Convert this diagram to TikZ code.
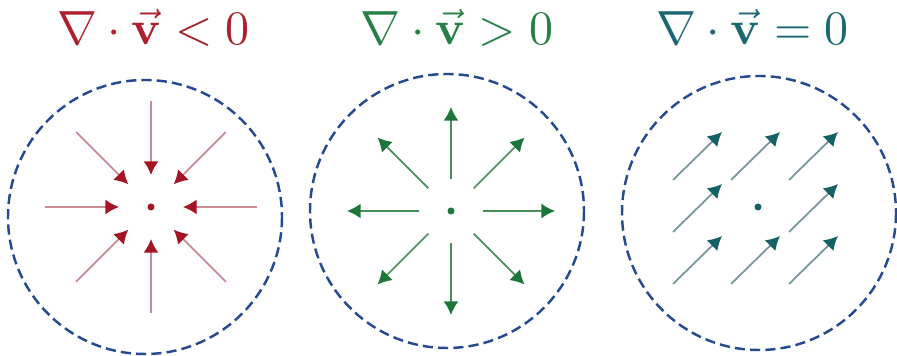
\documentclass[tikz,border=0pt]{standalone}
\usepackage{graphicx}
\usetikzlibrary{arrows.meta,calc}
\definecolor{tred}{RGB}{172,32,48}
\definecolor{hred}{RGB}{165,20,35}
\definecolor{sred}{RGB}{200,140,150}
\definecolor{tgreen}{RGB}{36,128,68}
\definecolor{hgreen}{RGB}{28,118,58}
\definecolor{sgreen}{RGB}{72,142,92}
\definecolor{tteal}{RGB}{28,104,112}
\definecolor{hteal}{RGB}{20,98,104}
\definecolor{steal}{RGB}{118,150,155}
\definecolor{navy}{RGB}{38,74,145}
\newcommand{\bigtitle}[1]{\scalebox{1.366}{#1}}
\begin{document}
\begin{tikzpicture}[x=0.1mm,y=-0.1mm,
  title/.style={anchor=base,inner sep=0pt},
  rim/.style={draw=navy,dash pattern=on 2.9pt off 1.45pt,line width=0.7pt},
  dot/.style={circle,fill=#1,inner sep=0pt,minimum size=0.7mm},
  fieldvec/.style 2 args={draw=#1,line width=0.5pt,-{Latex[length=3.9pt,width=4.3pt,color=#2]}}
  ]
\useasboundingbox (0,0) rectangle (897,356);
% titles
\node[title,text=tred]   (t1) at (153.5,44.5) {\bigtitle{$\nabla\cdot\vec{\mathbf{v}}<0$}};
\node[title,text=tgreen] (t2) at (457,44.5)   {\bigtitle{$\nabla\cdot\vec{\mathbf{v}}>0$}};
\node[title,text=tteal]  (t3) at (752.5,44.5) {\bigtitle{$\nabla\cdot\vec{\mathbf{v}}=0$}};
% circles
\draw[rim] (145,217) circle[radius=137];
\draw[rim] (447,211) circle[radius=137];
\draw[rim] (759,213) circle[radius=137];
% centre dots
\node[dot=hred]   (d1) at (151,207) {};
\node[dot=hgreen] (d2) at (451,211) {};
\node[dot=hteal]  (d3) at (758,207) {};
% convergent field
\foreach \a in {0,45,...,315}
  \draw[fieldvec={sred}{hred}] ($(d1)+(\a:106)$) -- ($(d1)+(\a:32)$);
% divergent field
\foreach \a in {0,45,...,315}
  \draw[fieldvec={sgreen}{hgreen}] ($(d2)+(\a:32)$) -- ($(d2)+(\a:104)$);
% uniform field
\foreach \p/\q in {-85/-27,-27/-27,31/-27,-85/25,31/25,-85/77,-27/77,31/77}
  \draw[fieldvec={steal}{hteal}] ($(d3)+(\p,\q)$) -- ++(49,-48);
\end{tikzpicture}
\end{document}
